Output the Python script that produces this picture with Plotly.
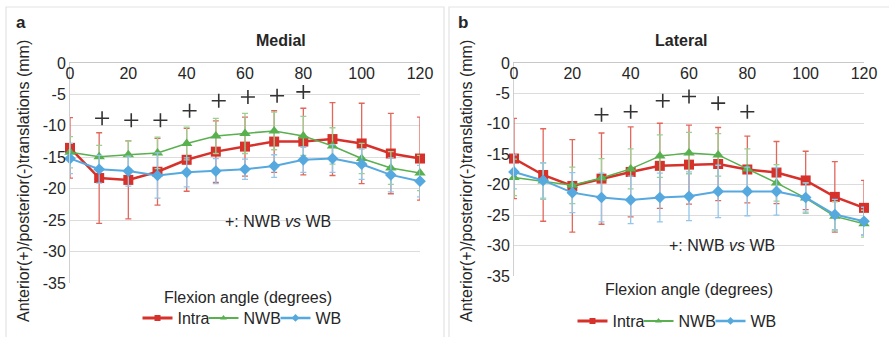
import plotly.graph_objects as go

angles = [0, 10, 20, 30, 40, 50, 60, 70, 80, 90, 100, 110, 120]
x_ticks = [0, 20, 40, 60, 80, 100, 120]
y_ticks = [0, -5, -10, -15, -20, -25, -30, -35]
y_ticktext = ["0", "-5", "-10", "-15", "-20", "-25", "-30", "-35"]

# Medial
med_intra = [-13.5, -18.3, -18.6, -17.3, -15.4, -14.1, -13.3, -12.5, -12.5, -12.1, -12.8, -14.4, -15.2]
med_intra_sd = [4.8, 7.2, 6.2, 5.3, 5.0, 4.9, 4.7, 4.9, 5.3, 5.8, 6.4, 6.4, 6.6]
med_nwb = [-14.2, -14.9, -14.6, -14.3, -12.8, -11.6, -11.2, -10.8, -11.6, -13.2, -15.2, -16.7, -17.5]
med_nwb_sd = [2.5, 1.8, 2.2, 2.5, 2.6, 2.8, 3.2, 3.0, 3.1, 2.9, 2.4, 2.6, 2.8]
med_wb = [-15.2, -16.9, -17.2, -17.9, -17.4, -17.2, -16.9, -16.4, -15.4, -15.2, -16.1, -17.8, -18.8]
med_wb_sd = [2.4, 2.2, 2.4, 3.6, 2.3, 2.0, 1.6, 1.8, 2.0, 2.2, 2.4, 2.7, 2.5]
med_sig_x = [11, 21, 31, 41, 51, 61, 71, 80]
med_sig_y = [-8.8, -9.1, -9.1, -7.6, -6.0, -5.4, -5.2, -4.6]

# Lateral
lat_intra = [-15.7, -18.4, -20.2, -19.0, -17.9, -16.9, -16.7, -16.6, -17.5, -18.0, -19.3, -22.0, -23.8]
lat_intra_sd = [6.6, 7.6, 7.6, 7.5, 7.4, 7.0, 6.5, 6.0, 5.5, 5.1, 4.8, 5.8, 4.5]
lat_nwb = [-18.8, -19.4, -20.1, -18.9, -17.4, -15.3, -14.8, -15.1, -17.4, -19.7, -22.2, -25.2, -26.4]
lat_nwb_sd = [3.0, 3.0, 3.0, 3.2, 3.3, 3.5, 3.4, 3.5, 3.3, 3.0, 2.5, 2.4, 2.2]
lat_wb = [-17.9, -19.3, -21.3, -22.1, -22.5, -22.1, -21.9, -21.1, -21.1, -21.1, -22.1, -24.9, -26.0]
lat_wb_sd = [2.8, 2.9, 3.3, 4.0, 3.9, 4.0, 4.0, 4.3, 4.0, 3.9, 2.4, 2.5, 2.3]
lat_sig_x = [30, 40, 51, 60, 70, 80]
lat_sig_y = [-8.5, -8.0, -6.2, -5.5, -6.6, -8.0]

W, H = 889, 337
FONT = "Liberation Sans, Arial, sans-serif"
TXT = "#262626"

RED, RED_E = "#d7312b", "#e2675b"
GREEN, GREEN_E = "#58b04f", "#9bd091"
BLUE, BLUE_E = "#55a9df", "#93c6ea"

def px(v):
    return v / W

def py(v):
    return 1 - v / H

fig = go.Figure()

# name, color, errcolor, symbol, size, linewidth, legend text-area width
series = [
    ("Intra", RED, RED_E, "square", 10, 2.5, 21),
    ("NWB", GREEN, GREEN_E, "triangle-up", 10, 1.5, 27),
    ("WB", BLUE, BLUE_E, "diamond", 9, 2, 26),
]

panels = [
    ("x", "y", "legend", [med_intra, med_nwb, med_wb], [med_intra_sd, med_nwb_sd, med_wb_sd], med_sig_x, med_sig_y),
    ("x2", "y2", "legend2", [lat_intra, lat_nwb, lat_wb], [lat_intra_sd, lat_nwb_sd, lat_wb_sd], lat_sig_x, lat_sig_y),
]

for xa, ya, lg, vals, sds, sx, sy in panels:
    for (name, col, ecol, sym, ms, lw, lwid), v, sd in zip(series, vals, sds):
        fig.add_trace(go.Scatter(
            x=angles, y=v, name=name, mode="lines+markers", showlegend=False,
            line=dict(color=col, width=lw),
            marker=dict(symbol=sym, size=ms, color=col),
            error_y=dict(type="data", array=sd, color=ecol, thickness=1.3, width=3),
            xaxis=xa, yaxis=ya, cliponaxis=False,
        ))
    # legend entries (small markers like the original key)
    for (name, col, ecol, sym, ms, lw, lwid) in series:
        fig.add_trace(go.Scatter(
            x=[None], y=[None], name=name, mode="lines+markers", showlegend=True,
            line=dict(color=col, width=lw + 0.5), marker=dict(symbol=sym, size=6, color=col),
            xaxis=xa, yaxis=ya, legend=lg, legendwidth=lwid,
        ))
    fig.add_trace(go.Scatter(
        x=sx, y=sy, mode="markers", showlegend=False,
        marker=dict(symbol="cross-thin", size=10, line=dict(color="#333333", width=1.6)),
        xaxis=xa, yaxis=ya, cliponaxis=False, hoverinfo="skip",
    ))

axis_common_x = dict(range=[0, 120], tickvals=x_ticks, side="top", ticklabelposition="outside",
                     ticklabelstandoff=-23, automargin=False,
                     showline=True, linecolor="#c8c8c8", linewidth=1, showgrid=False, zeroline=False,
                     ticks="", tickfont=dict(family=FONT, size=16, color=TXT), fixedrange=True)
axis_common_y = dict(range=[-35, 0], tickvals=y_ticks, ticktext=y_ticktext, showline=True, automargin=False,
                     linecolor="#d0d0d0", linewidth=1, showgrid=True, gridcolor="#dcdcdc", gridwidth=1,
                     zeroline=False, ticks="", tickfont=dict(family=FONT, size=16, color=TXT), fixedrange=True)

fig.update_layout(
    width=W, height=H, autosize=False,
    margin=dict(l=0, r=0, t=0, b=0, pad=0, autoexpand=False),
    paper_bgcolor="white", plot_bgcolor="white",
    font=dict(family=FONT, size=16, color=TXT),
    xaxis=dict(domain=[px(70), px(420)], anchor="y", **axis_common_x),
    yaxis=dict(domain=[py(283), py(63)], anchor="x", **axis_common_y),
    xaxis2=dict(domain=[px(514), px(864)], anchor="y2", **axis_common_x),
    yaxis2=dict(domain=[py(276), py(63)], anchor="x2", **axis_common_y),
    legend=dict(orientation="h", x=px(242), y=py(318), xanchor="center", yanchor="middle",
                font=dict(family=FONT, size=16, color=TXT), itemwidth=30, bgcolor="rgba(0,0,0,0)",
                tracegroupgap=0),
    legend2=dict(orientation="h", x=px(677), y=py(321), xanchor="center", yanchor="middle",
                 font=dict(family=FONT, size=16, color=TXT), itemwidth=30, bgcolor="rgba(0,0,0,0)",
                 tracegroupgap=0),
    showlegend=True,
)

# panel frames
for x0, x1 in [(6, 444), (449, 895)]:
    fig.add_shape(type="rect", xref="paper", yref="paper", x0=px(x0), x1=px(x1), y0=-0.05, y1=py(7),
                  line=dict(color="#e3e3e3", width=1.2), fillcolor="rgba(0,0,0,0)", layer="below")

annots = [
    ("<b>a</b>", 21, 22, 0, 17),
    ("<b>b</b>", 463, 22, 0, 17),
    ("<b>Medial</b>", 281, 40, 0, 16),
    ("<b>Lateral</b>", 681, 40, 0, 16),
    ("Flexion angle (degrees)", 248, 297, 0, 16),
    ("Flexion angle (degrees)", 689, 289, 0, 16),
    ("+: NWB <i>vs</i> WB", 278, 221, 0, 16),
    ("+: NWB <i>vs</i> WB", 722, 245, 0, 16),
    ("Anterior(+)/posterior(-)translations (mm)", 23, 181, -90, 16),
    ("Anterior(+)/posterior(-)translations (mm)", 466, 181, -90, 16),
]
for text, ax_, ay_, ang, sz in annots:
    fig.add_annotation(text=text, x=px(ax_), y=py(ay_), xref="paper", yref="paper",
                       xanchor="center", yanchor="middle", showarrow=False, textangle=ang,
                       font=dict(family=FONT, size=sz, color=TXT))

fig.write_html("out.html")
